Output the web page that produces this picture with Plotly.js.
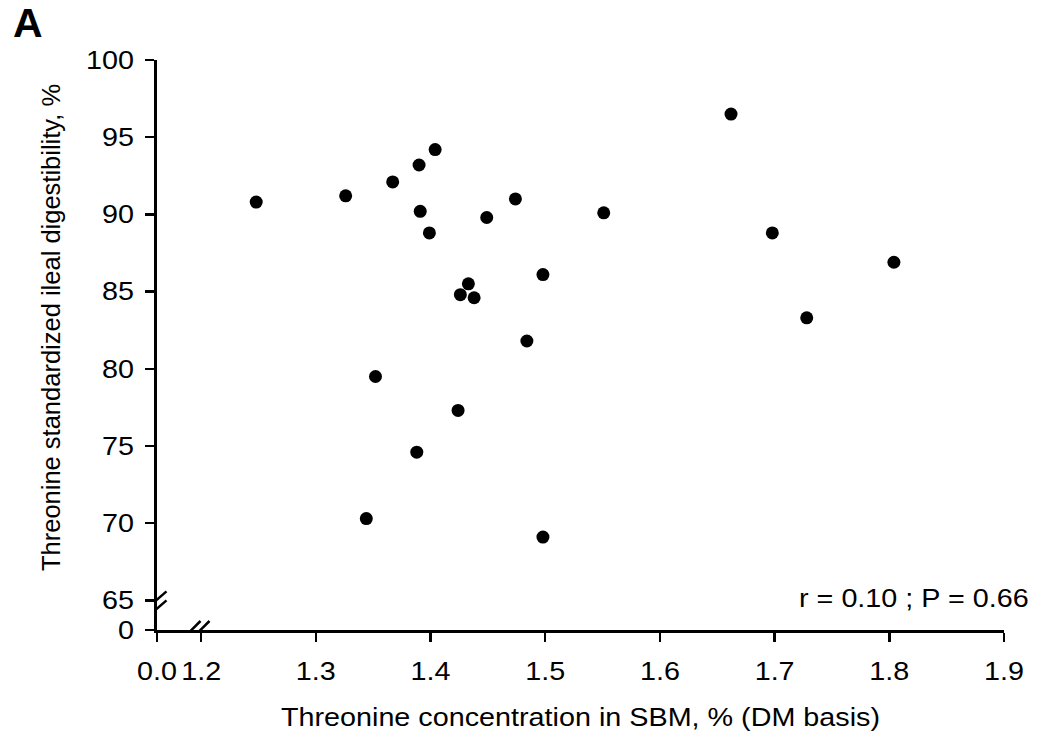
<!DOCTYPE html>
<html>
<head>
<meta charset="utf-8">
<script src="https://cdn.plot.ly/plotly-3.0.1.min.js"></script>
<style>
  html, body { margin: 0; padding: 0; background: #fff; }
  #chart { width: 1042px; height: 740px; }
</style>
</head>
<body>
<div id="chart"></div>
<script>
// Threonine concentration in SBM, % (DM basis)
const threonineConc = [1.248, 1.326, 1.367, 1.390, 1.404, 1.391, 1.399, 1.449, 1.474,
  1.433, 1.426, 1.438, 1.484, 1.352, 1.424, 1.388, 1.344, 1.498, 1.498,
  1.662, 1.551, 1.698, 1.728, 1.804];
// Threonine standardized ileal digestibility, %
const threonineSID = [90.8, 91.2, 92.1, 93.2, 94.2, 90.2, 88.8, 89.8, 91.0,
  85.5, 84.8, 84.6, 81.8, 79.5, 77.3, 74.6, 70.3, 69.1, 86.1,
  96.5, 90.1, 88.8, 83.3, 86.9];

// broken-axis tick labels
const xTickVals = [1.2, 1.3, 1.4, 1.5, 1.6, 1.7, 1.8, 1.9];
const xTickText = ['1.2', '1.3', '1.4', '1.5', '1.6', '1.7', '1.8', '1.9'];
const yTickVals = [65, 70, 75, 80, 85, 90, 95, 100];
const yTickText = ['65', '70', '75', '80', '85', '90', '95', '100'];
const xZeroLabel = '0.0';
const yZeroLabel = '0';
const xTitle = 'Threonine concentration in SBM, % (DM basis)';
const yTitle = 'Threonine standardized ileal digestibility, %';
const statsText = 'r = 0.10 ; P = 0.66';
const panelLabel = 'A';

// axis layout (the "0" labels stand in for the start of each broken axis)
const xStart = 1.1615, xEnd = 1.9;
const yStart = 63.08, yEnd = 100;
const xBreak = 1.1955;   // where the x break marks sit
const yBreak = 65;       // where the y break marks sit

const FONT = 'Liberation Sans, Arial, sans-serif';
const FS = 25;           // text size
const WIDEN = 1.15;      // the reference's horizontal text is drawn somewhat wide

const trace = {
  x: threonineConc,
  y: threonineSID,
  type: 'scatter',
  mode: 'markers',
  marker: { color: '#000', size: 13, line: { width: 0 } },
  hoverinfo: 'x+y',
  showlegend: false
};

function pxShape(type, xa, ya, extra) {
  return Object.assign({
    type: type, xref: 'x', yref: 'y',
    xsizemode: 'pixel', ysizemode: 'pixel',
    xanchor: xa, yanchor: ya, layer: 'above'
  }, extra);
}
const blackLine = { color: '#000', width: 2.5 };
const noLine = { width: 0 };

const shapes = [
  // x break: hide the tick under it and cut the axis line
  pxShape('rect', 1.2, yStart, { x0: -3, x1: 3, y0: -1, y1: -14, fillcolor: '#fff', line: noLine }),
  pxShape('path', xBreak, yStart, { path: 'M-9,-9 L-0.5,-9 L9,9 L0.5,9 Z', fillcolor: '#fff', line: noLine }),
  pxShape('line', xBreak, yStart, { x0: -13.5, x1: 4.5, y0: -9, y1: 9, line: blackLine }),
  pxShape('line', xBreak, yStart, { x0: -4.5, x1: 13.5, y0: -9, y1: 9, line: blackLine }),
  // y break: hide the tick under it and cut the axis line
  pxShape('rect', xStart, yBreak, { x0: -14, x1: -3, y0: -3, y1: 3, fillcolor: '#fff', line: noLine }),
  pxShape('path', xStart, yBreak, { path: 'M-9,-4 L9,5.5 L9,-3.5 L-9,-13 Z', fillcolor: '#fff', line: noLine }),
  pxShape('line', xStart, yBreak, { x0: -9.5, x1: 9.5, y0: -7.5, y1: 9, line: blackLine }),
  pxShape('line', xStart, yBreak, { x0: -9.5, x1: 9.5, y0: -16.5, y1: 0, line: blackLine })
];

const textFont = { family: FONT, size: FS, color: '#000' };

const layout = {
  width: 1042, height: 740,
  paper_bgcolor: '#fff', plot_bgcolor: '#fff',
  margin: { l: 157, r: 38, t: 60, b: 110 },
  font: textFont,
  xaxis: {
    range: [xStart, xEnd],
    tickvals: [xStart].concat(xTickVals),
    ticktext: [xZeroLabel].concat(xTickText),
    ticks: 'outside', ticklen: 9, tickwidth: 2.5, tickcolor: '#000',
    ticklabelstandoff: 8,
    showline: true, linewidth: 3, linecolor: '#000',
    showgrid: false, zeroline: false,
    tickfont: textFont,
    title: { text: xTitle, font: textFont, standoff: 25 }
  },
  yaxis: {
    range: [yStart, yEnd],
    tickvals: [yStart].concat(yTickVals),
    ticktext: [yZeroLabel].concat(yTickText),
    ticks: 'outside', ticklen: 9, tickwidth: 2.5, tickcolor: '#000',
    ticklabelstandoff: 6,
    showline: true, linewidth: 3, linecolor: '#000',
    showgrid: false, zeroline: false,
    tickfont: textFont
  },
  shapes: shapes,
  annotations: [
    { text: yTitle, xref: 'paper', yref: 'paper', x: -0.1251, y: 0.5298,
      xanchor: 'center', yanchor: 'middle', textangle: -90, showarrow: false,
      font: { family: FONT, size: 25.5, color: '#000' } },
    { text: statsText, xref: 'paper', yref: 'paper', x: 1.0319, y: 0.056,
      xanchor: 'right', yanchor: 'middle', showarrow: false,
      font: textFont },
    { text: '<b>' + panelLabel + '</b>', xref: 'paper', yref: 'paper', x: -0.1724, y: 1.109,
      xanchor: 'left', yanchor: 'top', showarrow: false,
      font: { family: FONT, size: 41, color: '#000' } }
  ],
  showlegend: false
};

// widen the horizontal text on screen, keeping each label's anchor fixed
function widenText(gd, s) {
  gd.querySelectorAll('svg text').forEach(function (t) {
    const content = t.textContent.trim();
    if (!content || content === panelLabel || content === yTitle) return;
    const r = t.getBoundingClientRect();
    if (!r.width) return;
    const anchor = t.getAttribute('text-anchor') || 'start';
    let fx;
    if (content === statsText) fx = r.right;
    else if (anchor === 'end') fx = r.right;
    else if (anchor === 'start') fx = r.left;
    else fx = r.left + r.width / 2;
    const P = t.parentNode.getScreenCTM();
    const Pm = new DOMMatrix([P.a, P.b, P.c, P.d, P.e, P.f]);
    const S = new DOMMatrix([s, 0, 0, 1, fx * (1 - s), 0]);
    const cons = t.transform.baseVal.consolidate();
    const Tm = cons ? new DOMMatrix([cons.matrix.a, cons.matrix.b, cons.matrix.c,
                                      cons.matrix.d, cons.matrix.e, cons.matrix.f])
                    : new DOMMatrix();
    const M = Pm.inverse().multiply(S).multiply(Pm).multiply(Tm);
    t.setAttribute('transform', 'matrix(' + [M.a, M.b, M.c, M.d, M.e, M.f].join(',') + ')');
  });
}

Plotly.newPlot('chart', [trace], layout, { displayModeBar: false, staticPlot: true })
  .then(function (gd) { widenText(gd, WIDEN); });
</script>
</body>
</html>
